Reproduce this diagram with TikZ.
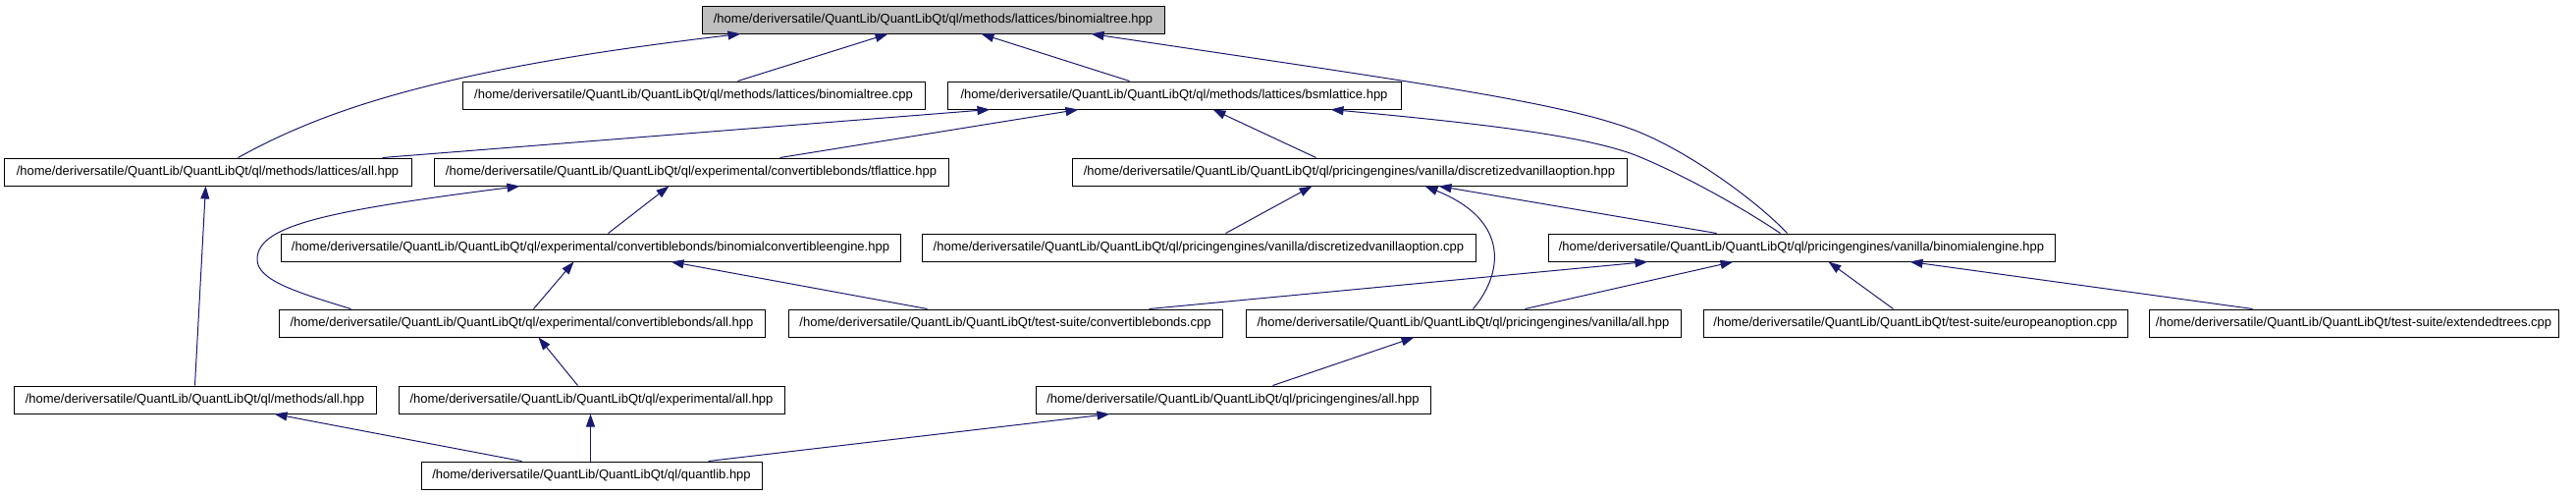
\documentclass[tikz,border=0pt]{standalone}
\usepackage{fontspec}
\setmainfont{Liberation Sans}
\usetikzlibrary{arrows.meta}
\definecolor{edgeblue}{HTML}{191970}
\definecolor{rootgray}{HTML}{BFBFBF}
\begin{document}
\begin{tikzpicture}[x=1pt,y=-1pt,
  filebox/.style={draw=black, line width=1pt, inner sep=0pt, minimum height=28pt,
    font=\fontsize{13}{15}\selectfont, fill=white},
  rootbox/.style={filebox, fill=rootgray},
  dep/.style={draw=edgeblue, line width=1pt, -{Triangle[length=13pt,width=9pt]}}]
\useasboundingbox (0,0) rectangle (2624,504);
% nodes
\node[rootbox, minimum width=471pt] (root) at (950.5,20) {/home/deriversatile/QuantLib/QuantLibQt/ql/methods/lattices/binomialtree.hpp};
\node[filebox, minimum width=471pt] (btcpp) at (706.5,97) {/home/deriversatile/QuantLib/QuantLibQt/ql/methods/lattices/binomialtree.cpp};
\node[filebox, minimum width=462pt] (bsm) at (1196,97) {/home/deriversatile/QuantLib/QuantLibQt/ql/methods/lattices/bsmlattice.hpp};
\node[filebox, minimum width=415pt] (latall) at (211.5,175) {/home/deriversatile/QuantLib/QuantLibQt/ql/methods/lattices/all.hpp};
\node[filebox, minimum width=524pt] (tfl) at (704,175) {/home/deriversatile/QuantLib/QuantLibQt/ql/experimental/convertiblebonds/tflattice.hpp};
\node[filebox, minimum width=565pt] (dvohpp) at (1374.5,175) {/home/deriversatile/QuantLib/QuantLibQt/ql/pricingengines/vanilla/discretizedvanillaoption.hpp};
\node[filebox, minimum width=631pt] (bce) at (601.5,252) {/home/deriversatile/QuantLib/QuantLibQt/ql/experimental/convertiblebonds/binomialconvertibleengine.hpp};
\node[filebox, minimum width=564pt] (dvocpp) at (1221,252) {/home/deriversatile/QuantLib/QuantLibQt/ql/pricingengines/vanilla/discretizedvanillaoption.cpp};
\node[filebox, minimum width=516pt] (beng) at (1835,252) {/home/deriversatile/QuantLib/QuantLibQt/ql/pricingengines/vanilla/binomialengine.hpp};
\node[filebox, minimum width=495pt] (cball) at (531.5,329) {/home/deriversatile/QuantLib/QuantLibQt/ql/experimental/convertiblebonds/all.hpp};
\node[filebox, minimum width=442pt] (cbcpp) at (1024,329) {/home/deriversatile/QuantLib/QuantLibQt/test-suite/convertiblebonds.cpp};
\node[filebox, minimum width=443pt] (vall) at (1490.5,329) {/home/deriversatile/QuantLib/QuantLibQt/ql/pricingengines/vanilla/all.hpp};
\node[filebox, minimum width=432pt] (euro) at (1951,329) {/home/deriversatile/QuantLib/QuantLibQt/test-suite/europeanoption.cpp};
\node[filebox, minimum width=417pt] (ext) at (2397.5,329) {/home/deriversatile/QuantLib/QuantLibQt/test-suite/extendedtrees.cpp};
\node[filebox, minimum width=369pt] (methall) at (198.5,407) {/home/deriversatile/QuantLib/QuantLibQt/ql/methods/all.hpp};
\node[filebox, minimum width=393pt] (expall) at (602.5,407) {/home/deriversatile/QuantLib/QuantLibQt/ql/experimental/all.hpp};
\node[filebox, minimum width=402pt] (peall) at (1256,407) {/home/deriversatile/QuantLib/QuantLibQt/ql/pricingengines/all.hpp};
\node[filebox, minimum width=347pt] (ql) at (602.5,484) {/home/deriversatile/QuantLib/QuantLibQt/ql/quantlib.hpp};
% edges
\draw[dep] ([xshift=239pt]latall.north west) .. controls (330,112) and (450,70) .. ([xshift=40pt]root.south west);
\draw[dep] ([xshift=281pt]btcpp.north west) -- ([xshift=190pt]root.south west);
\draw[dep] ([xshift=186pt]bsm.north west) -- ([xshift=285pt]root.south west);
\draw[dep] ([xshift=244pt]beng.north west) .. controls (1790,205) and (1720,154) .. (1666,133)
  .. controls (1590,104) and (1450,85) .. ([xshift=397pt]root.south west);
\draw[dep] ([xshift=386pt]latall.north west) -- ([xshift=44pt]bsm.south west);
\draw[dep] ([xshift=353pt]tfl.north west) -- ([xshift=134pt]bsm.south west);
\draw[dep] ([xshift=249pt]dvohpp.north west) -- ([xshift=271pt]bsm.south west);
\draw[dep] ([xshift=237pt]beng.north west) .. controls (1780,215) and (1720,180) .. (1666,158)
  .. controls (1610,137) and (1500,125) .. ([xshift=391pt]bsm.south west);
\draw[dep] ([xshift=334pt]bce.north west) -- ([xshift=240pt]tfl.south west);
\draw[dep] ([xshift=74pt]cball.north west) .. controls (300,297) and (262,285) .. (262,264)
  .. controls (262,230) and (330,215) .. ([xshift=88pt]tfl.south west);
\draw[dep] ([xshift=260pt]cball.north west) -- ([xshift=299pt]bce.south west);
\draw[dep] ([xshift=142pt]cbcpp.north west) -- ([xshift=398pt]bce.south west);
\draw[dep] ([xshift=310pt]dvocpp.north west) -- ([xshift=245pt]dvohpp.south west);
\draw[dep] ([xshift=232pt]vall.north west) .. controls (1530,280) and (1540,225) .. ([xshift=360pt]dvohpp.south west);
\draw[dep] ([xshift=172pt]beng.north west) -- ([xshift=374pt]dvohpp.south west);
\draw[dep] ([xshift=368pt]cbcpp.north west) -- ([xshift=102pt]beng.south west);
\draw[dep] ([xshift=285pt]vall.north west) -- ([xshift=189pt]beng.south west);
\draw[dep] ([xshift=194pt]euro.north west) -- ([xshift=286pt]beng.south west);
\draw[dep] ([xshift=106pt]ext.north west) -- ([xshift=369pt]beng.south west);
\draw[dep] ([xshift=185pt]methall.north west) -- ([xshift=206pt]latall.south west);
\draw[dep] ([xshift=183pt]expall.north west) -- ([xshift=265pt]cball.south west);
\draw[dep] ([xshift=242pt]peall.north west) -- ([xshift=172pt]vall.south west);
\draw[dep] ([xshift=103pt]ql.north west) -- ([xshift=266pt]methall.south west);
\draw[dep] ([xshift=173pt]ql.north west) -- ([xshift=196pt]expall.south west);
\draw[dep] ([xshift=293pt]ql.north west) -- ([xshift=76pt]peall.south west);
\end{tikzpicture}
\end{document}
